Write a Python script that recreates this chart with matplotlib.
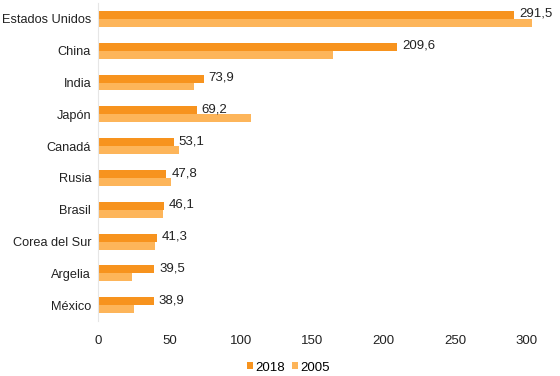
import numpy as np
import matplotlib.pyplot as plt

plt.rcParams['font.family'] = ['Liberation Sans', 'DejaVu Sans']

paises = ['Estados Unidos', 'China', 'India', 'Japón', 'Canadá', 'Rusia',
          'Brasil', 'Corea del Sur', 'Argelia', 'México']
v2018 = [291.5, 209.6, 73.9, 69.2, 53.1, 47.8, 46.1, 41.3, 39.5, 38.9]
v2005 = [303.8, 164.5, 67.0, 107.4, 57.0, 51.3, 45.3, 40.0, 23.9, 25.0]
xticks = [0, 50, 100, 150, 200, 250, 300]

c2018 = '#F7931E'
c2005 = '#FDB55A'

fig = plt.figure(figsize=(5.6, 3.76), dpi=100)
ax = fig.add_axes([0.175, 0.146, 0.798, 0.846])

y = np.arange(len(paises))
h = 0.25
ax.barh(y - h / 2, v2018, height=h, color=c2018, label='2018')
ax.barh(y + h / 2, v2005, height=h, color=c2005, label='2005')

for yi, v in zip(y, v2018):
    ax.text(v + 3.5, yi - h / 2 - 0.03, f'{v:.1f}'.replace('.', ','),
            va='center', ha='left', fontsize=9.5, color='#222222')

ax.set_yticks(y)
ax.set_yticklabels(paises, fontsize=9.2, color='#222222')
ax.set_ylim(len(paises) - 0.5, -0.5)
ax.set_xlim(0, 313)
ax.set_xticks(xticks)
ax.set_xticklabels([str(t) for t in xticks], fontsize=9.5, color='#222222')
ax.tick_params(axis='y', length=0, pad=5)
ax.tick_params(axis='x', length=0, pad=10)

for s in ['top', 'right', 'bottom']:
    ax.spines[s].set_visible(False)
ax.spines['left'].set_color('#E6E6E6')

fig.legend(loc='lower center', bbox_to_anchor=(0.515, -0.025), ncol=2, frameon=False,
           fontsize=9.5, handlelength=0.45, handleheight=0.45, handletextpad=0.2,
           columnspacing=0.5)

fig.savefig('out.png', dpi=100)
